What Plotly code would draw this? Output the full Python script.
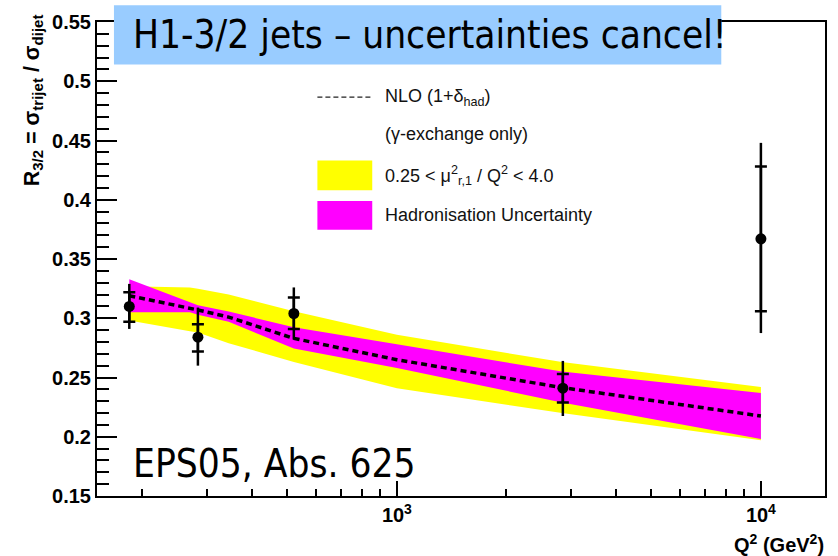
import plotly.graph_objects as go

# ---- data ----
q2_band = [184, 270, 284, 345, 521, 1000, 2840, 10000]
scale_hi = [0.327, 0.326, 0.325, 0.320, 0.306, 0.286, 0.263, 0.242]
scale_lo = [0.298, 0.289, 0.288, 0.279, 0.263, 0.241, 0.220, 0.197]
had_hi = [0.333, 0.314, 0.311, 0.3056, 0.2925, 0.278, 0.255, 0.237]
had_lo = [0.305, 0.305, 0.303, 0.297, 0.2744, 0.258, 0.229, 0.198]
nlo = [0.319, 0.309, 0.307, 0.301, 0.283, 0.265, 0.2415, 0.2175]

q2_data = [184, 284, 521, 2857, 10000]
r_data = [0.310, 0.284, 0.304, 0.241, 0.367]
stat_up = [0.012, 0.011, 0.0135, 0.012, 0.061]
stat_dn = [0.013, 0.012, 0.013, 0.012, 0.061]
tot_up = [0.019, 0.025, 0.022, 0.023, 0.081]
tot_dn = [0.019, 0.024, 0.022, 0.0235, 0.0795]

x_major = [1000, 10000]
x_major_text = ["10<sup>3</sup>", "10<sup>4</sup>"]
x_minor = [200, 300, 400, 500, 600, 700, 800, 900,
           2000, 3000, 4000, 5000, 6000, 7000, 8000, 9000]

title_text = "H1-3/2 jets \u2013 uncertainties cancel!"
note_text = "EPS05, Abs. 625"
legend_labels = ["NLO (1+\u03b4<sub>had</sub>)",
                 "(\u03b3-exchange only)",
                 "0.25 &lt; \u03bc<sup>2</sup><sub>r,1</sub> / Q<sup>2</sup> &lt; 4.0",
                 "Hadronisation Uncertainty"]

# ---- geometry helpers (pixel -> paper) ----
W, H = 838, 556
L, R, T, B = 97, 11, 17, 60
PW, PH = W - L - R, H - T - B


def px(x):
    return (x - L) / PW


def py(y):
    return (H - B - y) / PH


fig = go.Figure()

# yellow scale band
fig.add_trace(go.Scatter(x=q2_band + q2_band[::-1], y=scale_hi + scale_lo[::-1],
                         fill="toself", fillcolor="#FFFF00", line=dict(width=0),
                         mode="lines", hoverinfo="skip"))
# magenta hadronisation band
fig.add_trace(go.Scatter(x=q2_band + q2_band[::-1], y=had_hi + had_lo[::-1],
                         fill="toself", fillcolor="#FF00FF", line=dict(width=0),
                         mode="lines", hoverinfo="skip"))
# NLO dashed line
fig.add_trace(go.Scatter(x=q2_band, y=nlo, mode="lines",
                         line=dict(color="black", width=3.5, dash="6px,4px")))
# data with total errors
fig.add_trace(go.Scatter(x=q2_data, y=r_data, mode="markers",
                         marker=dict(color="black", size=11, symbol="circle"),
                         error_y=dict(type="data", symmetric=False, array=tot_up,
                                      arrayminus=tot_dn, width=0, thickness=2.5,
                                      color="black")))
# statistical error ticks
fig.add_trace(go.Scatter(x=q2_data, y=r_data, mode="markers",
                         marker=dict(color="black", size=2),
                         error_y=dict(type="data", symmetric=False, array=stat_up,
                                      arrayminus=stat_dn, width=6, thickness=2.5,
                                      color="black")))

axis_font = dict(family="Liberation Sans, Arial, sans-serif", size=20,
                 color="black", weight="bold")

fig.update_xaxes(type="log", range=[2.1761, 4.1761], showline=True, linecolor="black",
                 linewidth=2, mirror=True, showgrid=False, zeroline=False,
                 ticks="inside", ticklen=15, tickwidth=2, tickcolor="black",
                 tickmode="array", tickvals=x_major, ticktext=x_major_text,
                 tickfont=axis_font,
                 minor=dict(tickmode="array", tickvals=x_minor, ticks="inside",
                            ticklen=7, tickwidth=2, tickcolor="black", showgrid=False))
fig.update_yaxes(range=[0.15, 0.55], showline=True, linecolor="black", linewidth=2,
                 mirror=True, showgrid=False, zeroline=False,
                 ticks="inside", ticklen=20, tickwidth=2, tickcolor="black",
                 dtick=0.05, tick0=0.15, tickfont=axis_font,
                 minor=dict(dtick=0.01, ticks="inside", ticklen=12, tickwidth=2,
                            tickcolor="black", showgrid=False))

shapes = []
ann = []

# legend
shapes.append(dict(type="line", xref="paper", yref="paper", x0=px(318), x1=px(372),
                   y0=py(93), y1=py(93), line=dict(color="#222", width=1.2, dash="5px,3px")))
shapes.append(dict(type="rect", xref="paper", yref="paper", x0=px(318), x1=px(373),
                   y0=py(187), y1=py(157), fillcolor="#FFFF00", line=dict(width=0)))
shapes.append(dict(type="rect", xref="paper", yref="paper", x0=px(318), x1=px(373),
                   y0=py(227), y1=py(198), fillcolor="#FF00FF", line=dict(width=0)))
leg_font = dict(family="Liberation Sans, Arial, sans-serif", size=18, color="#111")
for lab, yy in zip(legend_labels, [93, 130, 172, 212]):
    ann.append(dict(text=lab, xref="paper", yref="paper", x=px(384), y=py(yy),
                    xanchor="left", yanchor="middle", showarrow=False, font=leg_font))

# title box
shapes.append(dict(type="rect", xref="paper", yref="paper", x0=px(114), x1=px(723),
                   y0=py(60), y1=py(0), fillcolor="#99CCFF", line=dict(width=0),
                   layer="above"))
big_font = dict(family="DejaVu Sans Condensed, DejaVu Sans, sans-serif", size=38.5,
                color="black")
ann.append(dict(text=title_text, xref="paper", yref="paper", x=px(131), y=py(30),
                xanchor="left", yanchor="middle", showarrow=False, font=big_font))
ann.append(dict(text=note_text, xref="paper", yref="paper", x=px(131), y=py(463),
                xanchor="left", yanchor="middle", showarrow=False, font=big_font))

# axis titles
ann.append(dict(text="R<sub>3/2</sub> = \u03c3<sub>trijet</sub> / \u03c3<sub>dijet</sub>",
                xref="paper", yref="paper", x=px(33), y=py(96), textangle=-90,
                xanchor="center", yanchor="middle", showarrow=False,
                font=dict(family="Liberation Sans, Arial, sans-serif", size=21.5,
                          color="black", weight="bold")))
ann.append(dict(text="Q<sup>2</sup> (GeV<sup>2</sup>)", xref="paper", yref="paper",
                x=px(828), y=py(544), xanchor="right", yanchor="middle",
                showarrow=False,
                font=dict(family="Liberation Sans, Arial, sans-serif", size=20,
                          color="black", weight="bold")))

fig.update_layout(width=W, height=H, margin=dict(l=L, r=R, t=T, b=B),
                  plot_bgcolor="white", paper_bgcolor="white", showlegend=False,
                  shapes=shapes, annotations=ann)

fig.write_html("out.html", config={"displayModeBar": False},
               post_script="document.body.style.margin='0px';"
                           "document.body.style.overflow='hidden';")
